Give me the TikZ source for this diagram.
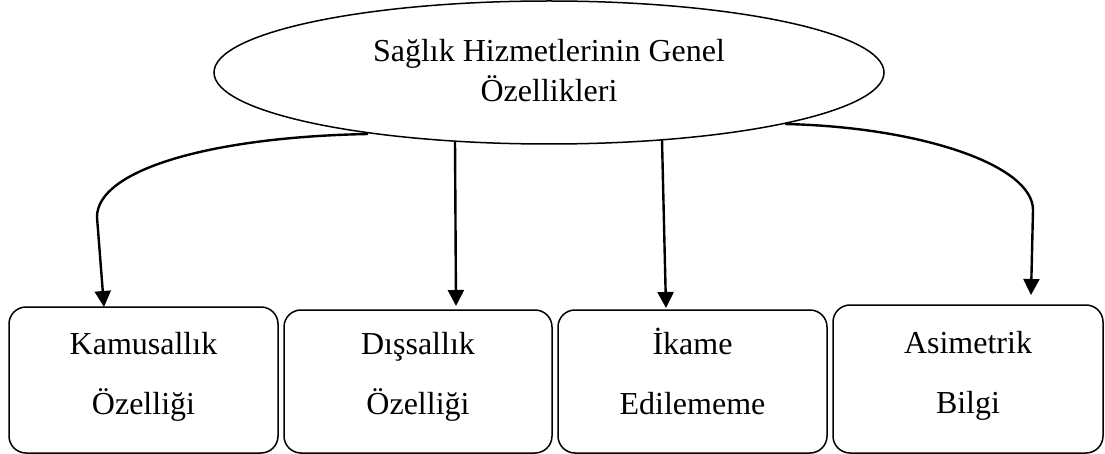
\documentclass[tikz,border=0pt]{standalone}
\usepackage{fontspec}
\setmainfont{Liberation Serif}
\usetikzlibrary{shapes.geometric,arrows.meta}
\tikzset{
  shapeline/.style={draw=black, line width=1.5pt},
  boxnode/.style={shapeline, rectangle, rounded corners=17pt, inner sep=0pt},
  lbl/.style={anchor=base, inner sep=0pt, font=\fontsize{32}{38}\selectfont},
  arr/.style={line width=2.4pt, -{Triangle[length=16pt,width=16pt]}},
}
\begin{document}
\begin{tikzpicture}[x=1pt,y=-1pt]
\useasboundingbox (0,0) rectangle (1105,454);
% top ellipse
\node[shapeline, ellipse, minimum width=670pt, minimum height=143pt, inner sep=0pt] (main) at (549,72.5) {};
\node[lbl] (t1) at (549,62) {Sağlık Hizmetlerinin Genel};
\node[lbl] (t2) at (549,102) {Özellikleri};
% boxes
\node[boxnode, minimum width=269pt, minimum height=146pt] (b1) at (143.5,380) {};
\node[boxnode, minimum width=268pt, minimum height=143pt] (b2) at (418,381.5) {};
\node[boxnode, minimum width=269pt, minimum height=143pt] (b3) at (692.5,381.5) {};
\node[boxnode, minimum width=270pt, minimum height=148pt] (b4) at (968,379) {};
\node[lbl] (k1) at (143.5,354) {Kamusallık};
\node[lbl] (k2) at (143.5,414) {Özelliği};
\node[lbl] (d1) at (418,354) {Dışsallık};
\node[lbl] (d2) at (418,414) {Özelliği};
\node[lbl] (i1) at (692.5,354) {İkame};
\node[lbl] (i2) at (692.5,414) {Edilememe};
\node[lbl] (a1) at (968,353) {Asimetrik};
\node[lbl] (a2) at (968,413) {Bilgi};
% connector ends
\coordinate (s1) at (368,134);
\coordinate (e1) at (104,307);
\coordinate (s2) at (455,141);
\coordinate (e2) at (456,306);
\coordinate (s3) at (662,140);
\coordinate (e3) at (666,308);
\coordinate (s4) at (785,124);
\coordinate (e4) at (1031,295);
% connectors
\draw[arr] (s1) .. controls (210,137) and (97,170) .. (97,217) -- (e1);
\draw[arr] (s2) -- (e2);
\draw[arr] (s3) -- (e3);
\draw[arr] (s4) .. controls (920,127) and (1033,165) .. (1033,210) -- (e4);
\end{tikzpicture}
\end{document}
